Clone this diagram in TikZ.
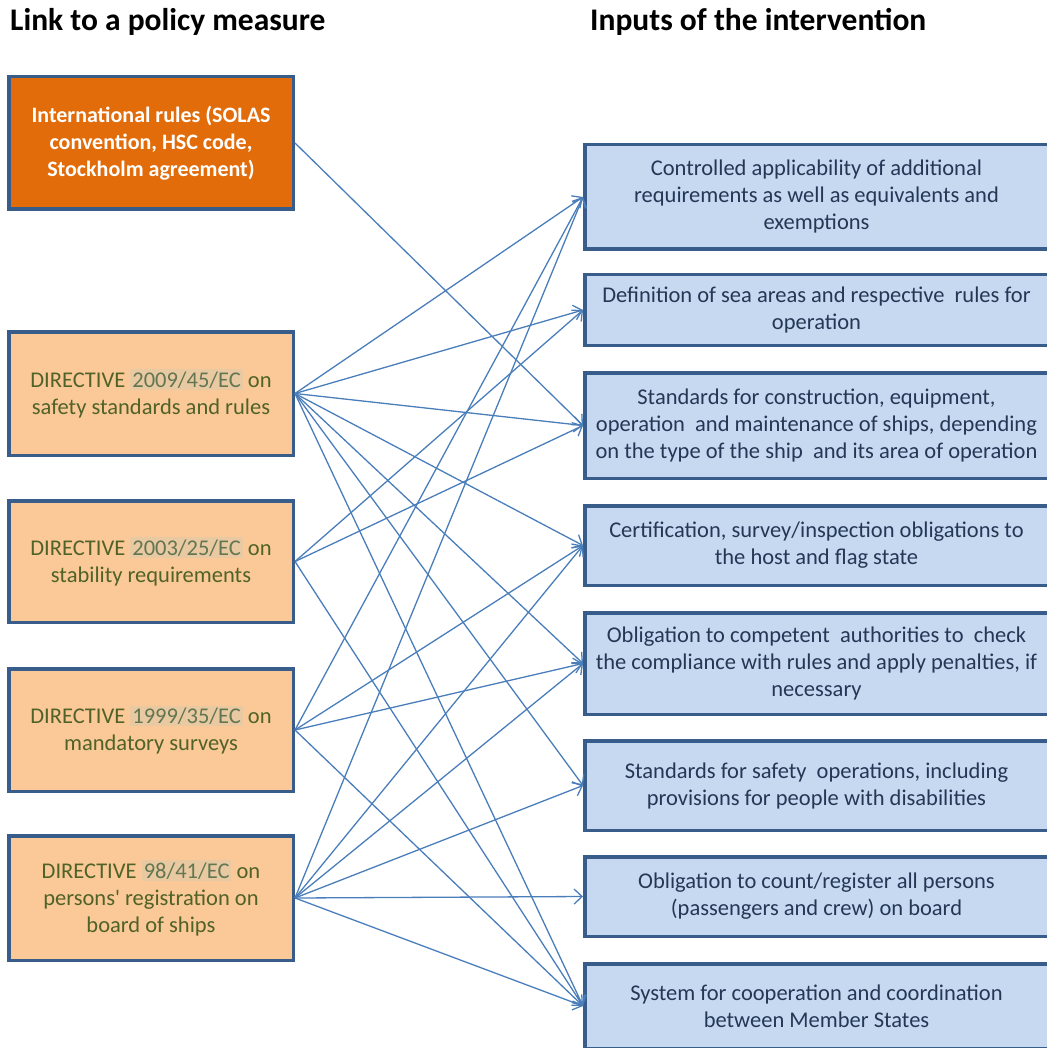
\documentclass[tikz,border=0pt]{standalone}
\usepackage{fontspec}
\setmainfont{Carlito}
\usetikzlibrary{arrows.meta}

\definecolor{boxline}{RGB}{56,93,138}
\definecolor{intlfill}{RGB}{227,108,10}
\definecolor{dirfill}{RGB}{251,201,151}
\definecolor{dirtext}{RGB}{79,98,40}
\definecolor{numbg}{RGB}{233,201,162}
\definecolor{numfg}{RGB}{98,118,82}
\definecolor{inputfill}{RGB}{198,217,241}
\definecolor{inputtext}{RGB}{36,56,86}
\definecolor{linkline}{RGB}{74,126,187}

\newcommand{\dirno}[1]{{\setlength{\fboxsep}{2pt}\colorbox{numbg}{\textcolor{numfg}{#1}}}}

\begin{document}
\begin{tikzpicture}[x=1pt,y=-1pt,
    head/.style={anchor=base west, inner sep=0pt, font=\bfseries\fontsize{31.5}{38}\selectfont},
    measure/.style={draw=boxline, line width=3.5pt, minimum width=284.5pt, inner sep=0pt, align=center, font=\fontsize{22.5}{27}\selectfont},
    intl/.style={measure, fill=intlfill, text=white, font=\bfseries\fontsize{22}{27}\selectfont},
    directive/.style={measure, fill=dirfill, text=dirtext},
    input/.style={draw=boxline, line width=3.5pt, fill=inputfill, text=inputtext, minimum width=463.5pt, inner sep=0pt, align=center, font=\fontsize{22.5}{27}\selectfont},
    link/.style={draw=linkline, line width=1.3pt, -{Straight Barb[length=8pt,width=15pt]}}]
    \useasboundingbox (0,0) rectangle (1046,1048);

    % headings
    \node[head] (headL) at (10,31) {Link to a policy measure};
    \node[head] (headR) at (590,31) {Inputs of the intervention};

    % policy measures
    \node[intl, minimum height=132.5pt] (intl) at (151,143) {International rules (SOLAS\\ convention, HSC code,\\ Stockholm agreement)};
    \node[directive, minimum height=123.5pt] (dir1) at (151,393.5) {DIRECTIVE \dirno{2009/45/EC} on\\ safety standards and rules};
    \node[directive, minimum height=121.5pt] (dir2) at (151,561.5) {DIRECTIVE \dirno{2003/25/EC} on\\ stability requirements};
    \node[directive, minimum height=122.5pt] (dir3) at (151,730) {DIRECTIVE \dirno{1999/35/EC} on\\ mandatory surveys};
    \node[directive, minimum height=124.5pt] (dir4) at (151,898) {DIRECTIVE \dirno{98/41/EC} on\\ persons\textquotesingle{} registration on\\ board of ships};

    % inputs
    \node[input, minimum height=104.5pt] (in1) at (816.5,197) {Controlled applicability of additional\\ requirements as well as equivalents and\\ exemptions};
    \node[input, minimum height=70.5pt] (in2) at (816.5,310) {Definition of sea areas and respective~ rules for\\ operation};
    \node[input, minimum height=105.5pt] (in3) at (816.5,425.5) {Standards for construction, equipment,\\ operation~ and maintenance of ships, depending\\ on the type of the ship~ and its area of operation};
    \node[input, minimum height=79.5pt] (in4) at (816.5,545.5) {Certification, survey/inspection obligations to\\ the host and flag state};
    \node[input, minimum height=101.5pt] (in5) at (816.5,663.5) {Obligation to competent~ authorities to~ check\\ the compliance with rules and apply penalties, if\\ necessary};
    \node[input, minimum height=89.5pt] (in6) at (816.5,785.5) {Standards for safety~ operations, including\\ provisions for people with disabilities};
    \node[input, minimum height=79.5pt] (in7) at (816.5,896.5) {Obligation to count/register all persons\\ (passengers and crew) on board};
    \node[input, minimum height=84.5pt] (in8) at (816.5,1006) {System for cooperation and coordination\\ between Member States};

    % links
    \draw[link] (intl.east) -- (in3.west);
    \foreach \t in {1,2,3,4,5,6,8}
        \draw[link] (dir1.east) -- (in\t.west);
    \foreach \t in {2,3,8}
        \draw[link] (dir2.east) -- (in\t.west);
    \foreach \t in {1,4,5,8}
        \draw[link] (dir3.east) -- (in\t.west);
    \foreach \t in {1,4,5,6,7,8}
        \draw[link] (dir4.east) -- (in\t.west);
\end{tikzpicture}
\end{document}
